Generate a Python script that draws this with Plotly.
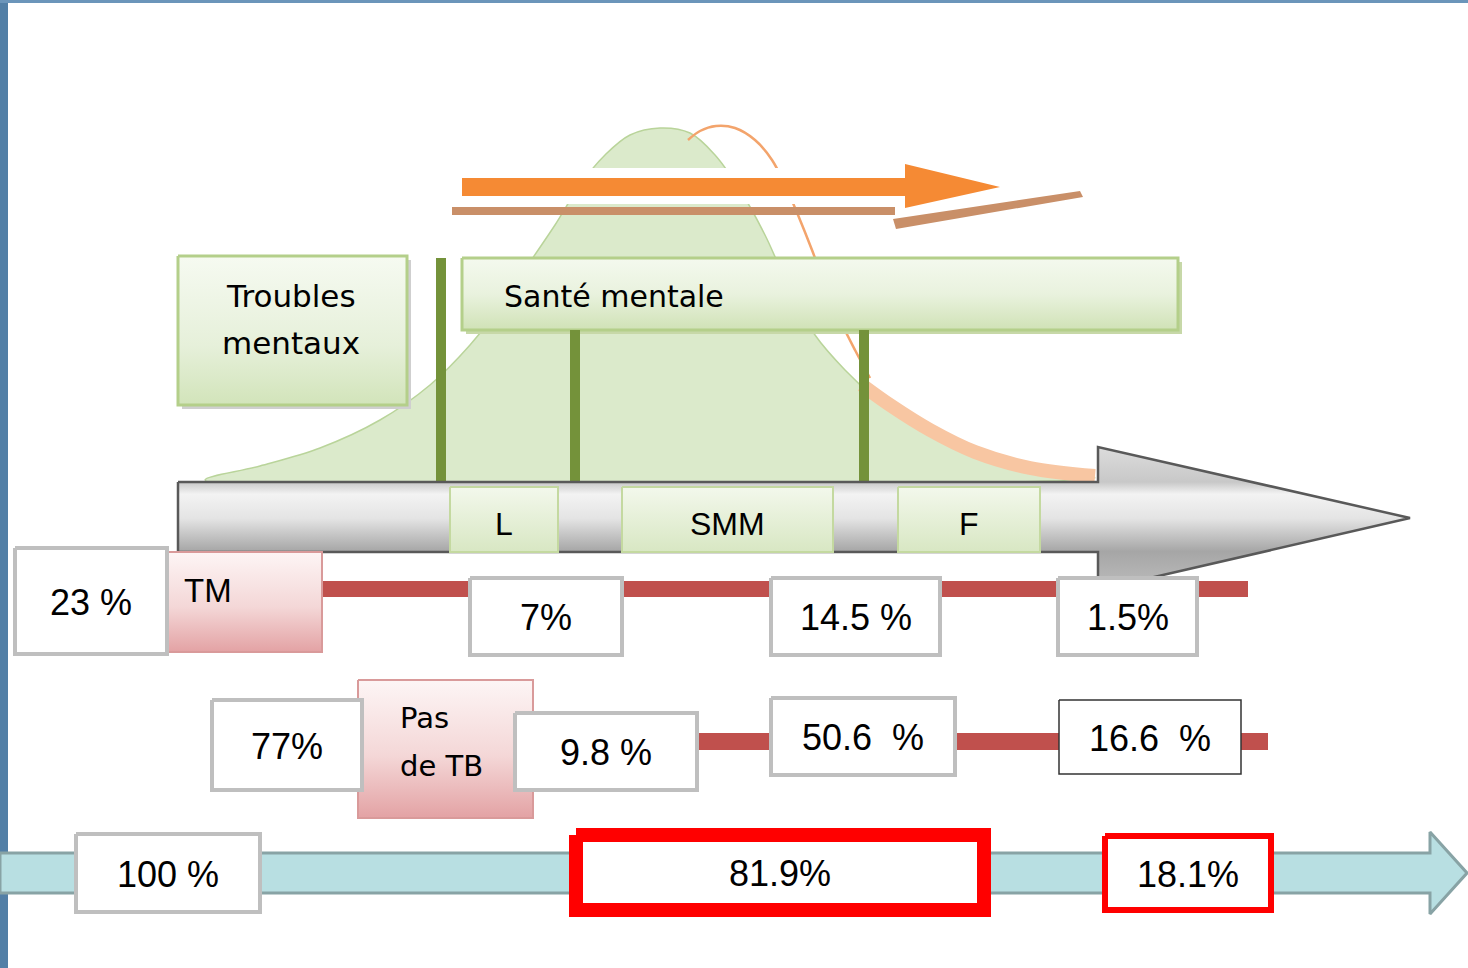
import plotly.graph_objects as go

# ---- text / values ----
group_labels = ["Troubles", "mentaux", "Santé mentale"]
stage_labels = ["L", "SMM", "F"]
tm_label = "TM"
no_tm_label = ["Pas", "de TB"]
row1_values = ["23 %", "7%", "14.5 %", "1.5%"]
row2_values = ["77%", "9.8 %", "50.6  %", "16.6  %"]
row3_values = ["100 %", "81.9%", "18.1%"]

# decorative curves (pixel coords)
green_curve_x = [205, 260, 320, 380, 430, 470, 505, 530, 555, 580, 605, 630, 660, 690, 715,
                 740, 765, 790, 815, 845, 875, 910, 950, 995, 1045, 1095]
green_curve_y = [480, 466, 448, 420, 385, 345, 300, 262, 225, 185, 155, 135, 128, 133, 155,
                 190, 235, 290, 335, 370, 398, 424, 446, 462, 472, 478]
orange_arc_x = [688, 700, 716, 735, 755, 772, 785, 798, 812, 825, 840, 855, 870]
orange_arc_y = [140, 131, 126, 128, 140, 160, 185, 215, 250, 285, 320, 350, 378]
orange_tail_x = [862, 890, 930, 975, 1030, 1095]
orange_tail_y = [385, 405, 430, 452, 468, 476]

W, H = 1468, 968
FONT_NUM = "Liberation Sans, Arial, sans-serif"
FONT_CAL = "DejaVu Sans, sans-serif"

fig = go.Figure()


def poly(xs, ys, fill, line_color=None, line_width=0, gradient=None, shape="linear"):
    tr = dict(x=list(xs) + [xs[0]], y=list(ys) + [ys[0]], mode="lines", fill="toself",
              fillcolor=fill, hoverinfo="skip", showlegend=False,
              line=dict(color=line_color or "rgba(0,0,0,0)", width=line_width, shape=shape))
    if gradient:
        tr["fillgradient"] = gradient
    fig.add_trace(go.Scatter(**tr))


def rect(x0, y0, x1, y1, fill, line_color=None, line_width=0, gradient=None):
    poly([x0, x1, x1, x0], [y0, y0, y1, y1], fill, line_color, line_width, gradient)


def vgrad(y0, y1, stops):
    return dict(type="vertical", start=y0, stop=y1, colorscale=stops)


def text(x, y, s, size, family=FONT_NUM, anchor="center"):
    fig.add_annotation(x=x, y=y, xref="x", yref="y", text=s.replace("  ", " \u00a0"),
                       showarrow=False, xanchor=anchor, yanchor="middle",
                       font=dict(family=family, size=size, color="black"))


# ---- bell curves ----
poly(green_curve_x, green_curve_y, "rgba(190,216,160,0.55)", "#b9d49a", 1.5, shape="spline")
fig.add_trace(go.Scatter(x=orange_arc_x, y=orange_arc_y, mode="lines", hoverinfo="skip",
                         showlegend=False, line=dict(color="#f3a46c", width=2.5, shape="spline")))
fig.add_trace(go.Scatter(x=orange_tail_x, y=orange_tail_y, mode="lines", hoverinfo="skip",
                         showlegend=False, line=dict(color="#f8c6a2", width=14, shape="spline")))

# ---- orange arrow with halo and shadow ----
poly([452, 895, 895, 1015, 895, 895, 452], [168, 168, 153, 187, 222, 204, 204], "white")
rect(452, 207, 895, 215, "#c98f68")
poly([893, 1080, 1083, 896], [219, 191, 197, 229], "#c98f68")
poly([462, 905, 905, 1000, 905, 905, 462], [178, 178, 164, 187, 208, 196, 196], "#f58a34")

# ---- group boxes ----
rect(182, 260, 411, 409, "#cfcfcf")
rect(178, 256, 407, 405, "#e8f1dd", "#b4cf8a", 3,
     vgrad(256, 405, [[0, "#f6faf1"], [0.6, "#e6f0da"], [1, "#d2e4ba"]]))
rect(466, 262, 1182, 334, "#c7d8a8")
rect(462, 258, 1178, 330, "#e8f1dd", "#b4cf8a", 3,
     vgrad(258, 330, [[0, "#f4f9ee"], [0.5, "#e9f2de"], [1, "#d0e2b6"]]))

# green separators
for bx, by0 in [(441, 258), (575, 330), (864, 330)]:
    rect(bx - 5, by0, bx + 5, 484, "#74923a")

# ---- grey axis arrow ----
poly([178, 1098, 1098, 1410, 1098, 1098, 178],
     [482, 482, 447, 518, 590, 552, 552], "#d9d9d9", "#595959", 2.5,
     vgrad(447, 590, [[0, "#dcdcdc"], [0.245, "#c8c8c8"], [0.33, "#f3f3f3"],
                      [0.5, "#e4e4e4"], [0.73, "#a6a6a6"], [1, "#bdbdbd"]]))
stage_boxes = [(450, 558), (622, 833), (898, 1040)]
for (x0, x1), lab in zip(stage_boxes, stage_labels):
    rect(x0, 487, x1, 552, "#e6f0d8", "#c4d9a0", 2,
         vgrad(487, 552, [[0, "#f3f8ec"], [1, "#d8e7c3"]]))
    text((x0 + x1) / 2, 524, lab, 32)

# ---- row 1 : TM ----
rect(320, 581, 1248, 597, "#c0504d")
rect(167, 552, 322, 652, "#f2d6d6", "#d99a9a", 2,
     vgrad(552, 652, [[0, "#fdf5f5"], [0.55, "#f4d7d7"], [1, "#e3a2a4"]]))
text(182, 590, tm_label, 33, anchor="left")
row1_boxes = [(15, 548, 167, 654), (470, 578, 622, 655), (771, 578, 940, 655), (1058, 578, 1197, 655)]
for (x0, y0, x1, y1), lab in zip(row1_boxes, row1_values):
    rect(x0, y0, x1, y1, "white", "#bfbfbf", 4)
    text((x0 + x1) / 2, (y0 + y1) / 2 + 1, lab, 36)

# ---- row 2 : Pas de TB ----
rect(697, 733, 1268, 750, "#c0504d")
rect(358, 680, 533, 818, "#f2d6d6", "#d99a9a", 2,
     vgrad(680, 818, [[0, "#fdf5f5"], [0.55, "#f4d7d7"], [1, "#e3a2a4"]]))
text(398, 718, no_tm_label[0], 29, FONT_CAL, "left")
text(398, 766, no_tm_label[1], 29, FONT_CAL, "left")
row2_boxes = [(212, 700, 362, 790, "#bfbfbf", 4), (515, 713, 697, 790, "#bfbfbf", 4),
              (771, 698, 955, 775, "#bfbfbf", 4), (1059, 700, 1241, 774, "#333333", 1.5)]
for (x0, y0, x1, y1, lc, lw), lab in zip(row2_boxes, row2_values):
    rect(x0, y0, x1, y1, "white", lc, lw)
    text((x0 + x1) / 2, (y0 + y1) / 2 + 1, lab, 36)

# ---- row 3 : total arrow ----
poly([0, 1430, 1430, 1467, 1430, 1430, 0], [853, 853, 832, 873, 914, 893, 893],
     "#b8dfe2", "#88a3a5", 3)
row3_boxes = [(76, 834, 260, 912, "#bfbfbf", 4), (576, 835, 984, 910, "#ff0000", 14),
              (1105, 836, 1271, 910, "#ff0000", 6)]
for (x0, y0, x1, y1, lc, lw), lab in zip(row3_boxes, row3_values):
    rect(x0, y0, x1, y1, "white", lc, lw)
    text((x0 + x1) / 2, (y0 + y1) / 2 + 1, lab, 36)

# ---- labels of the group boxes ----
text(291, 296, group_labels[0], 31, FONT_CAL)
text(291, 343, group_labels[1], 31, FONT_CAL)
text(502, 296, group_labels[2], 30, FONT_CAL, "left")

# frame strips (slide background)
fig.add_shape(type="rect", xref="x", yref="y", x0=0, x1=8, y0=0, y1=H,
              fillcolor="#527fa6", line_width=0, layer="below")
fig.add_shape(type="rect", xref="x", yref="y", x0=0, x1=W, y0=0, y1=3,
              fillcolor="#6b95ba", line_width=0, layer="below")

fig.update_xaxes(range=[0, W], visible=False, fixedrange=True)
fig.update_yaxes(range=[H, 0], visible=False, fixedrange=True)
fig.update_layout(width=W, height=H, margin=dict(l=0, r=0, t=0, b=0),
                  paper_bgcolor="white", plot_bgcolor="white", showlegend=False)

fig.write_html("out.html", config={"displayModeBar": False},
               post_script="document.body.style.margin='0';document.body.style.overflow='hidden';")
